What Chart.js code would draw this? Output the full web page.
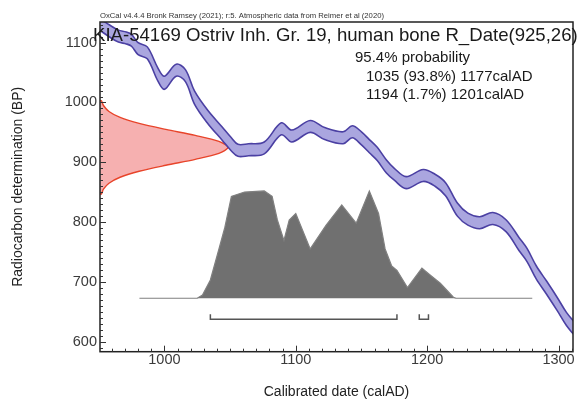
<!DOCTYPE html>
<html>
<head>
<meta charset="utf-8">
<script src="https://cdn.jsdelivr.net/npm/chart.js@4.4.1/dist/chart.umd.min.js"></script>
<style>
  html, body { margin: 0; padding: 0; background: #ffffff; }
  canvas { display: block; }
</style>
</head>
<body>
<canvas id="c" width="579" height="399"></canvas>
<script>
// ---- Data ----
// Calibration curve (IntCal20) band, calendar years AD
const calYears  = [950, 958, 965, 971, 975, 980, 987, 995, 1000, 1009, 1016, 1023, 1033, 1044, 1051, 1056, 1064, 1076, 1089, 1097, 1111, 1122, 1136, 1143, 1150, 1156, 1162, 1169, 1175, 1184, 1197, 1206, 1214, 1223, 1231, 1240, 1250, 1260, 1270, 1276, 1283, 1291, 1299, 1306, 1312];
const calUpper  = [1142, 1130, 1121, 1118, 1114, 1100, 1093, 1058, 1044, 1064, 1055, 1019, 987, 959, 941, 930, 931, 934, 966, 954, 970, 958, 951, 961, 951, 938, 925, 904, 890, 876, 888, 880, 866, 832, 815, 809, 816, 804, 774, 756, 727, 701, 674, 649, 633];
const calLower  = [1122, 1110, 1101, 1098, 1094, 1080, 1073, 1036, 1022, 1044, 1035, 997, 965, 937, 919, 910, 911, 914, 946, 934, 950, 938, 931, 941, 929, 916, 903, 882, 870, 856, 868, 860, 844, 810, 795, 789, 796, 784, 752, 734, 705, 679, 652, 627, 611];

// Radiocarbon measurement likelihood R_Date(925,26), on the BP axis
const bpLevels   = [1003, 1003, 995, 985, 975, 965, 955, 945, 935, 925, 915, 905, 895, 885, 875, 865, 855, 847, 847];
const likelihood = [0, 0.011, 0.027, 0.07, 0.157, 0.306, 0.514, 0.744, 0.929, 1.0, 0.929, 0.744, 0.514, 0.306, 0.157, 0.07, 0.027, 0.011, 0];

// Calibrated posterior probability
const postYears = [981, 1025, 1029, 1035, 1042, 1046, 1051, 1061, 1076, 1082, 1086, 1091, 1095, 1100, 1111, 1123, 1135, 1146, 1156, 1163, 1168, 1173, 1177, 1185, 1196, 1202, 1210, 1220, 1222, 1280];
const postProb  = [0, 0, 0.03, 0.17, 0.48, 0.66, 0.95, 0.99, 1.0, 0.95, 0.73, 0.54, 0.73, 0.79, 0.46, 0.68, 0.87, 0.70, 1.0, 0.79, 0.46, 0.30, 0.26, 0.10, 0.28, 0.22, 0.14, 0.01, 0, 0];

// 95.4% ranges
const rangeStart = [1035, 1194];
const rangeEnd   = [1177, 1201];

// Tick labels
const xTickValues = [1000, 1100, 1200, 1300];
const yTickValues = [600, 700, 800, 900, 1000, 1100];

// Texts
const headerText = 'OxCal v4.4.4 Bronk Ramsey (2021); r:5. Atmospheric data from Reimer et al (2020)';
const titleText  = 'KIA-54169 Ostriv Inh. Gr. 19, human bone R_Date(925,26)';
const probLines  = ['95.4% probability', '1035 (93.8%) 1177calAD', '1194 (1.7%) 1201calAD'];

// ---- Chart ----
const FONT = '"Liberation Sans", Arial, Helvetica, sans-serif';

const pts = (xs, ys) => xs.map((x, i) => ({ x: x, y: ys[i] }));

const overlay = {
  id: 'overlay',
  afterDatasetsDraw(chart) {
    const { ctx } = chart;
    const xs = chart.scales.x;
    const base = chart.scales.y2.getPixelForValue(0);
    const yb = base + 21;
    ctx.save();
    ctx.strokeStyle = '#555';
    ctx.lineWidth = 1.5;
    for (let i = 0; i < rangeStart.length; i++) {
      const x1 = xs.getPixelForValue(rangeStart[i]);
      const x2 = xs.getPixelForValue(rangeEnd[i]);
      ctx.beginPath();
      ctx.moveTo(x1, yb - 5);
      ctx.lineTo(x1, yb);
      ctx.lineTo(x2, yb);
      ctx.lineTo(x2, yb - 5);
      ctx.stroke();
    }
    ctx.restore();
  },
  afterDraw(chart) {
    const { ctx, chartArea: a } = chart;
    const xs = chart.scales.x, ys = chart.scales.y;
    ctx.save();
    // frame
    ctx.strokeStyle = '#222';
    ctx.lineWidth = 1.5;
    ctx.strokeRect(a.left, a.top, a.right - a.left, a.bottom - a.top);
    // inward ticks
    ctx.lineWidth = 1;
    ctx.strokeStyle = '#333';
    ctx.beginPath();
    for (let v = 960; v <= 1310; v += 10) {
      const p = Math.round(xs.getPixelForValue(v)) + 0.5;
      const len = v % 100 === 0 ? 6 : 3;
      ctx.moveTo(p, a.bottom);
      ctx.lineTo(p, a.bottom - len);
    }
    for (let v = 590; v <= 1130; v += 10) {
      const p = Math.round(ys.getPixelForValue(v)) + 0.5;
      const len = v % 100 === 0 ? 6 : 3;
      ctx.moveTo(a.left, p);
      ctx.lineTo(a.left + len, p);
    }
    ctx.stroke();
    // texts
    ctx.fillStyle = '#333';
    ctx.textAlign = 'left';
    ctx.textBaseline = 'alphabetic';
    ctx.font = '7.7px ' + FONT;
    ctx.fillText(headerText, 100, 18, 284);
    ctx.fillStyle = '#1a1a1a';
    ctx.font = '18.6px ' + FONT;
    ctx.fillText(titleText, 93, 41, 486);
    ctx.font = '15px ' + FONT;
    ctx.fillText(probLines[0], 355, 62);
    ctx.fillText(probLines[1], 366, 81);
    ctx.fillText(probLines[2], 366, 99);
    ctx.restore();
  }
};

new Chart(document.getElementById('c'), {
  type: 'line',
  data: {
    datasets: [
      {
        label: 'cal upper',
        data: pts(calYears, calUpper),
        xAxisID: 'x', yAxisID: 'y',
        borderColor: '#4b40a3', borderWidth: 1.6,
        pointRadius: 0, tension: 0.35, fill: false
      },
      {
        label: 'cal lower',
        data: pts(calYears, calLower),
        xAxisID: 'x', yAxisID: 'y',
        borderColor: '#4b40a3', borderWidth: 1.6,
        backgroundColor: '#aaa6df',
        pointRadius: 0, tension: 0.35, fill: '-1'
      },
      {
        label: 'R_Date',
        data: pts(likelihood, bpLevels),
        xAxisID: 'x2', yAxisID: 'y',
        borderColor: '#e8442a', borderWidth: 1.4,
        backgroundColor: 'rgba(236,80,80,0.45)',
        pointRadius: 0, tension: 0.3, fill: 'shape'
      },
      {
        label: 'posterior',
        data: pts(postYears, postProb),
        xAxisID: 'x', yAxisID: 'y2',
        borderColor: '#808080', borderWidth: 1.2,
        backgroundColor: '#707070',
        pointRadius: 0, tension: 0, fill: 'origin'
      }
    ]
  },
  options: {
    responsive: false,
    animation: false,
    devicePixelRatio: 1,
    layout: { padding: { top: 22, right: 6, left: 0, bottom: 0 } },
    plugins: { legend: { display: false }, tooltip: { enabled: false } },
    scales: {
      x: {
        type: 'linear', position: 'bottom', min: 951, max: 1311,
        grid: { display: false, drawTicks: false }, border: { display: false },
        ticks: { font: { size: 14.5, family: FONT }, color: '#3a3a3a', padding: 0, maxRotation: 0,
                 callback: v => String(v) },
        afterBuildTicks: s => { s.ticks = xTickValues.map(v => ({ value: v })); },
        afterFit: s => { s.height = 47.3; s.paddingLeft = 0; s.paddingRight = 0; },
        title: { display: true, text: 'Calibrated date (calAD)', color: '#222',
                 font: { size: 14, family: FONT, lineHeight: 1 }, padding: { top: 0, bottom: 0 } }
      },
      y: {
        type: 'linear', position: 'left', min: 583.3, max: 1134.6,
        grid: { display: false, drawTicks: false }, border: { display: false },
        ticks: { font: { size: 14.5, family: FONT }, color: '#3a3a3a', padding: 3,
                 callback: v => String(v) },
        afterBuildTicks: s => { s.ticks = yTickValues.map(v => ({ value: v })); },
        afterFit: s => { s.width = 100; s.paddingTop = 0; s.paddingBottom = 0; },
        title: { display: true, text: 'Radiocarbon determination (BP)', color: '#222',
                 font: { size: 14, family: FONT, lineHeight: 1 }, padding: { top: 11, bottom: 0 } }
      },
      x2: { type: 'linear', display: false, min: 0, max: 3.695 },
      y2: { type: 'linear', display: false, min: -0.498, max: 2.575 }
    }
  },
  plugins: [overlay]
});
</script>
</body>
</html>
